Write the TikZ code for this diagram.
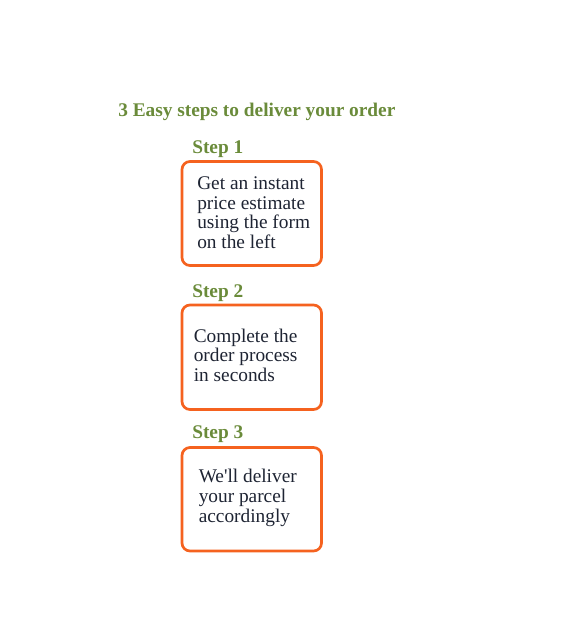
\documentclass[tikz,border=0pt]{standalone}
\usepackage{fontspec}
\setmainfont{Liberation Serif}[Ligatures=TeXOff]
\definecolor{stepgreen}{HTML}{6A8B3A}
\definecolor{boxorange}{HTML}{F5621F}
\definecolor{bodyink}{HTML}{1E2433}
\tikzset{
  titletext/.style={anchor=base west, inner sep=0pt, text=stepgreen, font=\fontsize{14.5}{15}\selectfont\bfseries},
  stepbox/.style={draw=boxorange, line width=2pt, rounded corners=6pt, fill=white},
  bodytext/.style={anchor=base west, inner sep=0pt, align=left, text=bodyink, font=\fontsize{14.5}{14.8}\selectfont},
}
\begin{document}
\begin{tikzpicture}[x=0.75pt,y=-0.75pt]
\useasboundingbox (0,0) rectangle (577,627);
\node[titletext] (title) at (118,117) {3 Easy steps to deliver your order};
\node[titletext] (s1) at (192,154) {Step 1};
\node[titletext] (s2) at (192,297) {Step 2};
\node[titletext] (s3) at (192,438.5) {Step 3};
\draw[stepbox] (182,161.5) rectangle (321.5,265.5) coordinate (b1);
\draw[stepbox] (182,305) rectangle (321.5,409.5) coordinate (b2);
\draw[stepbox] (182,447.5) rectangle (321.5,551) coordinate (b3);
\node[bodytext] (t1) at (197,248.5) {Get an instant\\price estimate\\using the form\\on the left};
\node[bodytext] (t2) at (193.5,381.5) {Complete the\\order process\\in seconds};
\node[bodytext] (t3) at (198.5,522) {We'll deliver\\your parcel\\accordingly};
\end{tikzpicture}
\end{document}
